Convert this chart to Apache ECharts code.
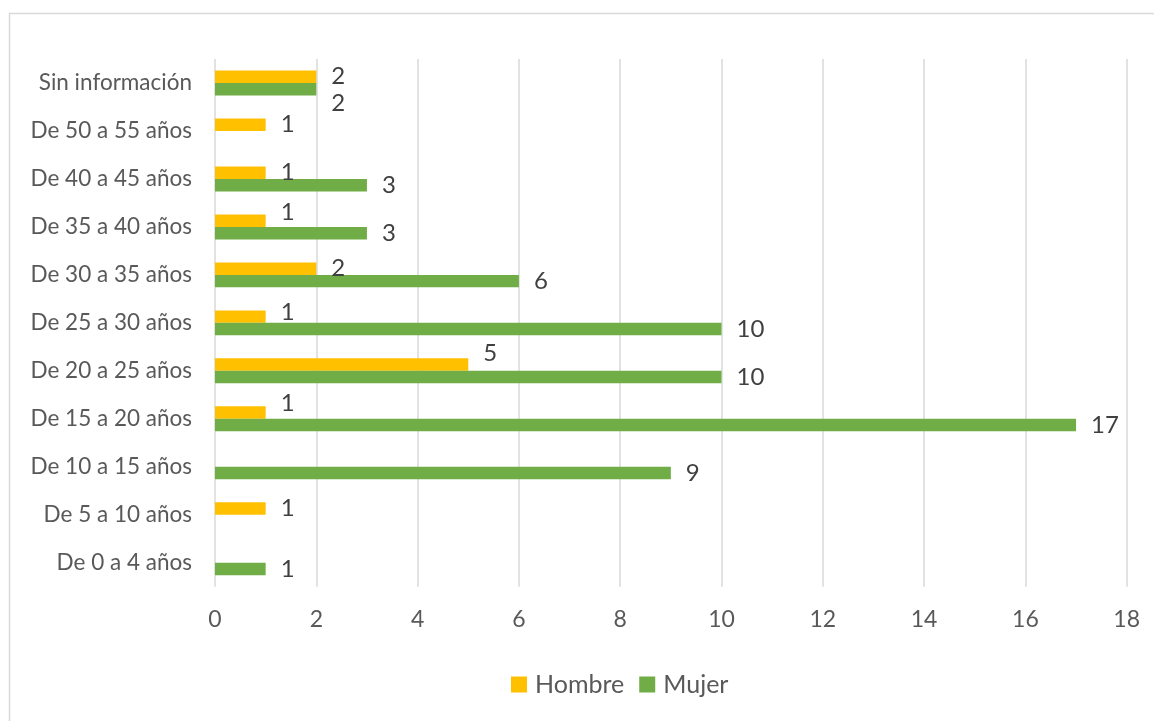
<!DOCTYPE html>
<html>
<head>
<meta charset="utf-8">
<script src="https://cdn.jsdelivr.net/npm/echarts@6/dist/echarts.min.js"></script>
<style>
html,body{margin:0;padding:0;background:#fff;}
#chart{width:1154px;height:721px;}
</style>
</head>
<body>
<div id="chart"></div>
<script>
// Categories bottom -> top
var categories = ['De 0 a 4 años','De 5 a 10 años','De 10 a 15 años','De 15 a 20 años','De 20 a 25 años','De 25 a 30 años','De 30 a 35 años','De 35 a 40 años','De 40 a 45 años','De 50 a 55 años','Sin información'];
var hombre = [null, 1, null, 1, 5, 1, 2, 1, 1, 1, 2];
var mujer  = [1, null, 9, 17, 10, 10, 6, 3, 3, null, 2];
var xTicks = [0, 2, 4, 6, 8, 10, 12, 14, 16, 18];

// label vertical nudges (as in the original layout)
var hombreLabelDy = [0, 0, 0, -9, -11, -4, 0, -8, 0, 0, 0];
var mujerLabelDy  = [0, 0, 0, 0, 0, 0, 0, 0, 0, 0, 14];

var FONT = 'Lato';
function build(vals, dys) {
  return vals.map(function (v, i) {
    if (v === null) return '-';
    return { value: v, label: { offset: [0, dys[i]] } };
  });
}

var chart = echarts.init(document.getElementById('chart'), null, {renderer: 'canvas'});
chart.setOption({
  backgroundColor: '#ffffff',
  animation: false,
  textStyle: { fontFamily: FONT },
  graphic: [{
    type: 'rect',
    shape: { x: 9.5, y: 13.5, width: 1300, height: 900 },
    style: { fill: 'none', stroke: '#d9d9d9', lineWidth: 1.5 },
    silent: true
  }],
  grid: { left: 215, right: 27.3, top: 59, bottom: 134.3, containLabel: false },
  legend: {
    data: ['Hombre', 'Mujer'],
    left: 506,
    top: 667,
    icon: 'rect',
    itemWidth: 16,
    itemHeight: 16,
    itemGap: 15,
    textStyle: { fontFamily: FONT, fontSize: 25, color: '#595959', padding: [0, 0, 0, 3] }
  },
  xAxis: {
    type: 'value',
    min: xTicks[0],
    max: xTicks[xTicks.length - 1],
    interval: xTicks[1] - xTicks[0],
    axisLine: { show: false },
    axisTick: { show: false },
    axisLabel: { fontFamily: FONT, fontSize: 23, color: '#595959', margin: 21 },
    splitLine: { show: true, lineStyle: { color: '#d9d9d9', width: 1.5 } }
  },
  yAxis: {
    type: 'category',
    data: categories,
    axisLine: { show: false },
    axisTick: { show: false },
    axisLabel: { fontFamily: FONT, fontSize: 22.5, color: '#595959', margin: 23 },
    splitLine: { show: false }
  },
  series: [
    {
      name: 'Hombre',
      type: 'bar',
      data: build(hombre, hombreLabelDy),
      itemStyle: { color: '#FFC000' },
      barGap: '0%',
      barCategoryGap: '48%',
      label: { show: true, position: 'right', distance: 15, fontFamily: FONT, fontSize: 24, color: '#404040' }
    },
    {
      name: 'Mujer',
      type: 'bar',
      data: build(mujer, mujerLabelDy),
      itemStyle: { color: '#70AD47' },
      barGap: '0%',
      barCategoryGap: '48%',
      label: { show: true, position: 'right', distance: 15, fontFamily: FONT, fontSize: 24, color: '#404040' }
    }
  ]
});
</script>
</body>
</html>
